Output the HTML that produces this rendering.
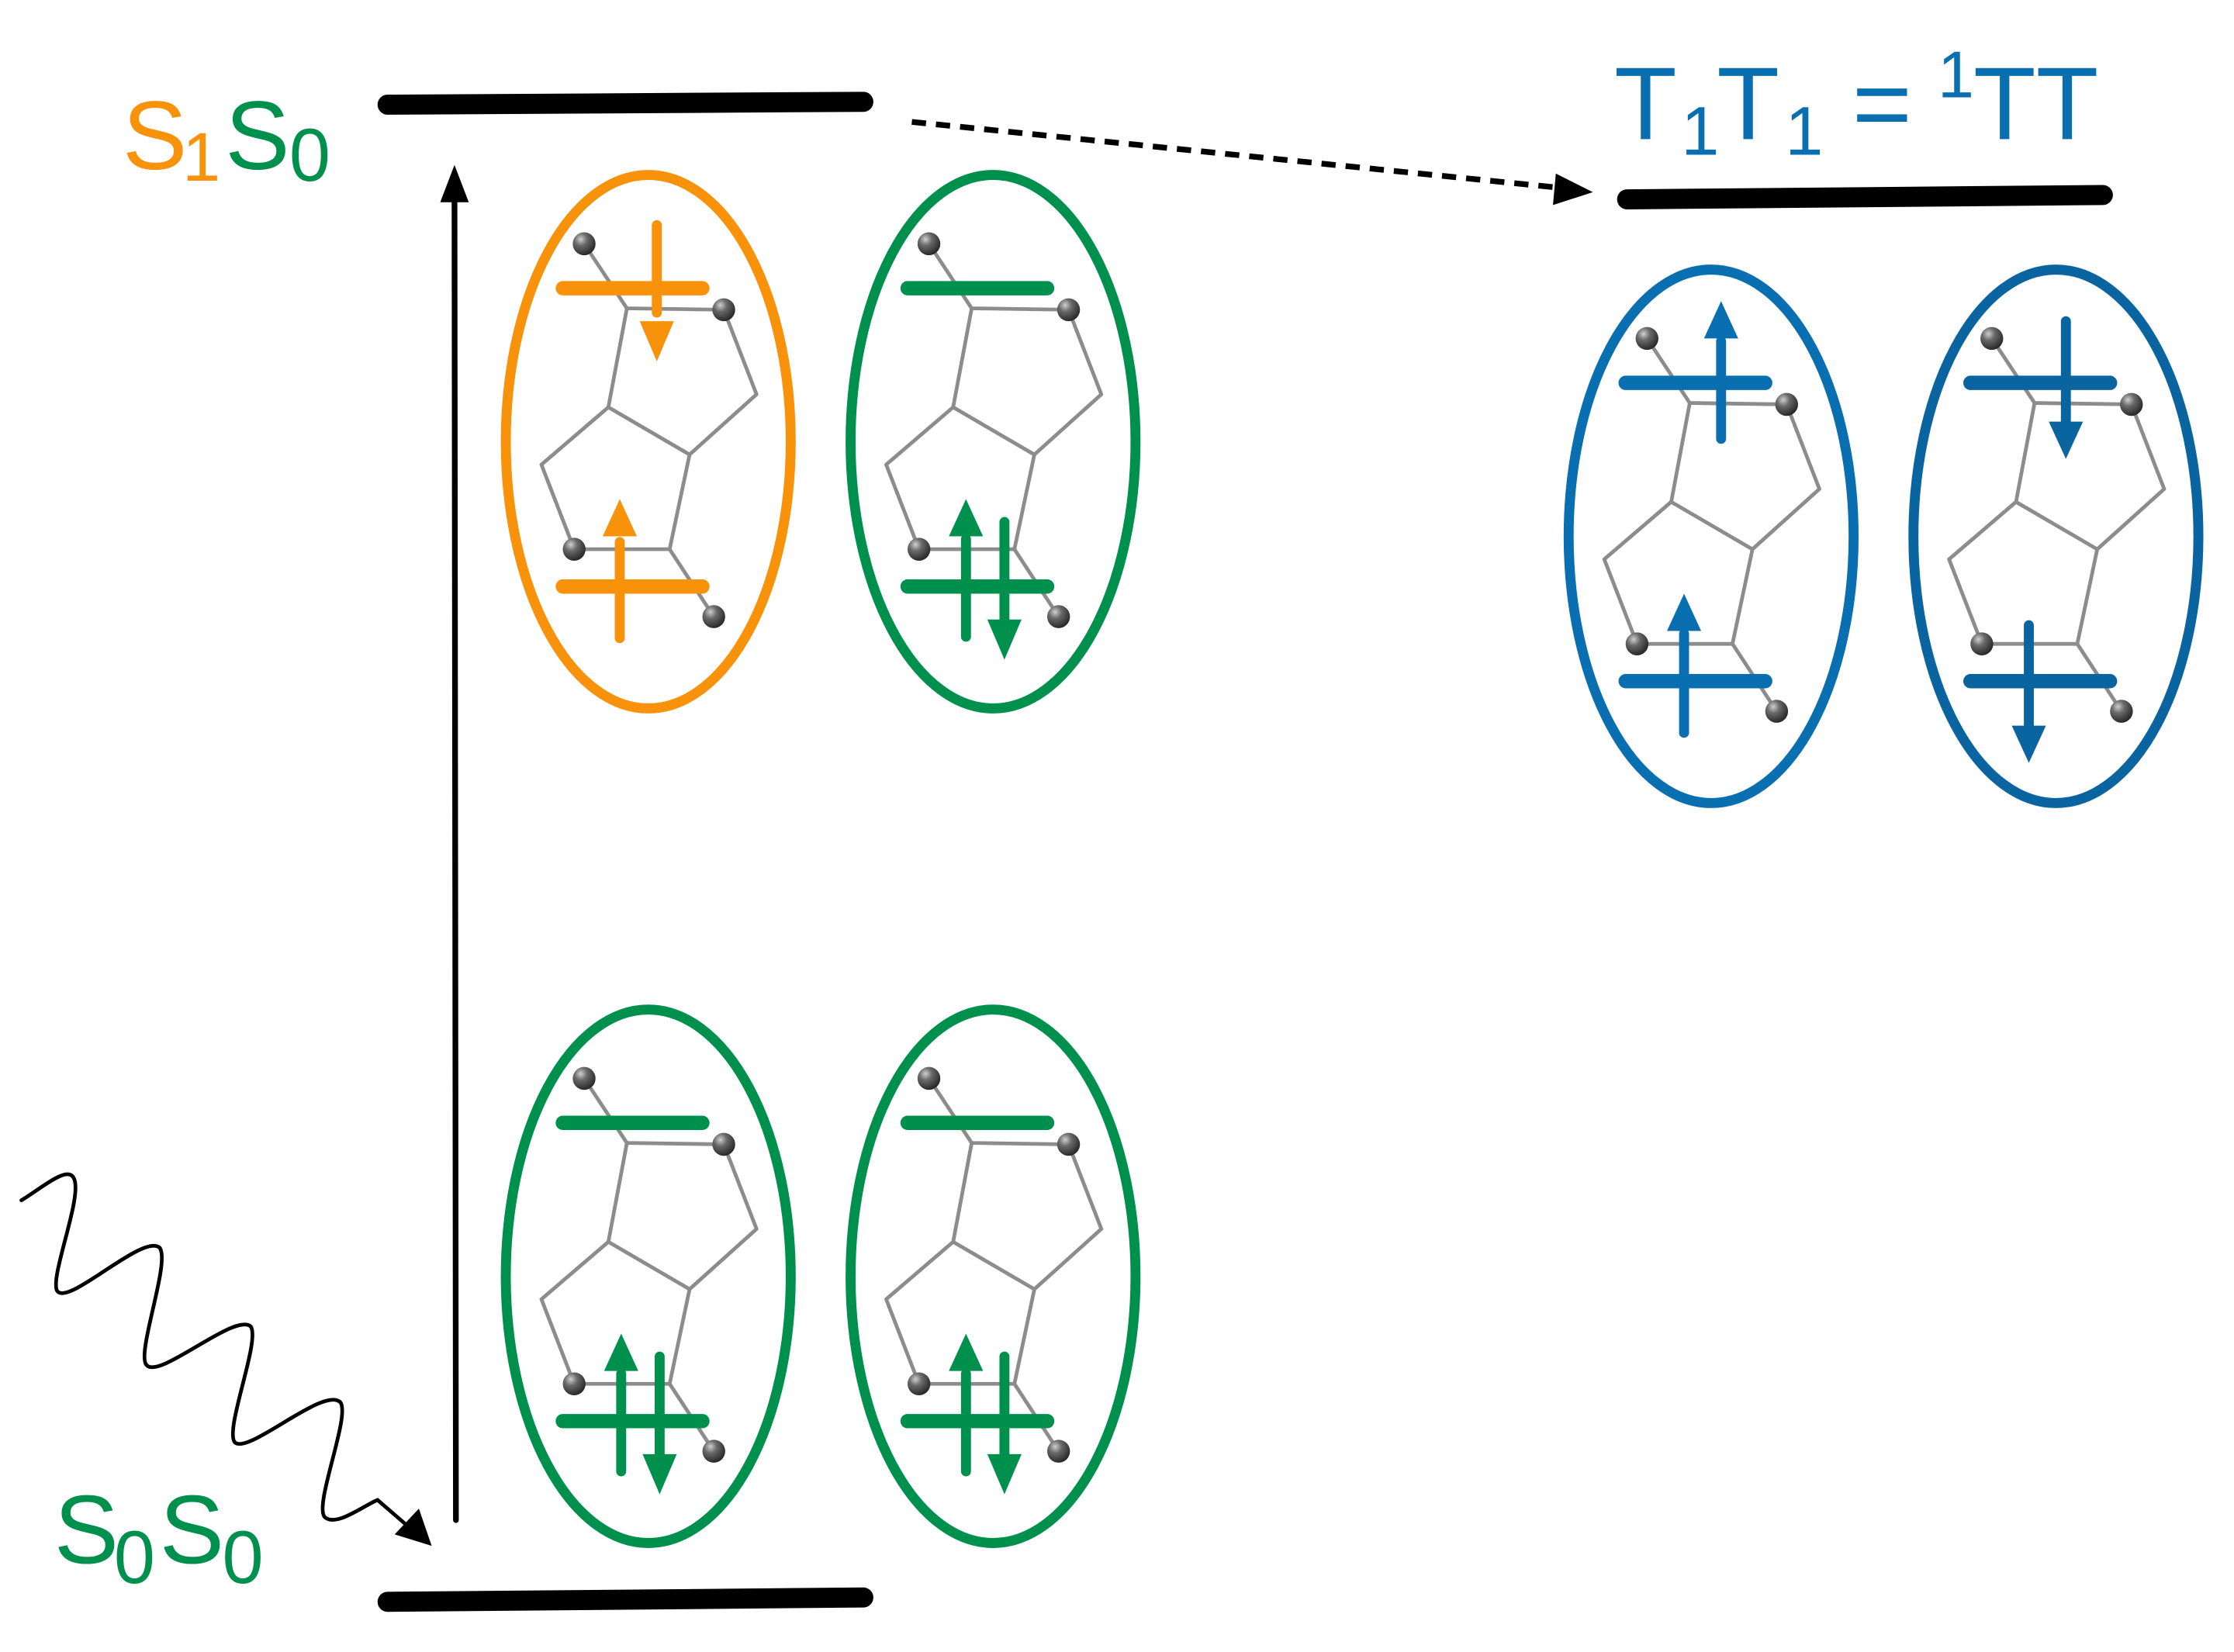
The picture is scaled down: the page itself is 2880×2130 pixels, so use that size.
<!DOCTYPE html>
<html><head><meta charset="utf-8"><style>
html,body{margin:0;padding:0;background:#fff;}
svg{display:block;}
text{font-family:"Liberation Sans","DejaVu Sans",sans-serif;}
</style></head><body>
<svg width="2880" height="2130" viewBox="0 0 1568 1152" preserveAspectRatio="none" xmlns="http://www.w3.org/2000/svg">
<defs>
<radialGradient id="ball" cx="35%" cy="30%" r="70%">
<stop offset="0" stop-color="#cfcfcf"/><stop offset="0.4" stop-color="#6a6a6a"/><stop offset="1" stop-color="#2a2a2a"/>
</radialGradient>
<g id="mol">
<g fill="none" stroke="#8c8c8c" stroke-width="2.6" stroke-linejoin="round">
<polyline points="-45,-138 -15,-93 53,-92"/>
<polyline points="53,-92 76,-33 29,9 -28,-24 -15,-93"/>
<polyline points="-28,-24 -75,16 -52,75 15,75 29,9"/>
<polyline points="15,75 46,122"/>
</g>
<circle cx="-45" cy="-138" r="8" fill="url(#ball)"/>
<circle cx="53" cy="-92" r="8" fill="url(#ball)"/>
<circle cx="-52" cy="75" r="8" fill="url(#ball)"/>
<circle cx="46" cy="122" r="8" fill="url(#ball)"/>
</g>
<g id="bars" stroke-width="10" stroke-linecap="round">
<line x1="-60" y1="-107" x2="38" y2="-107"/>
<line x1="-60" y1="101" x2="38" y2="101"/>
</g>
</defs>

<g stroke="#000" stroke-width="14" stroke-linecap="round">
<line x1="272" y1="73" x2="606" y2="71"/>
<line x1="272" y1="1117" x2="606" y2="1114"/>
<line x1="1142" y1="139" x2="1476" y2="136"/>
</g>
<line x1="320" y1="1060" x2="319" y2="135" stroke="#000" stroke-width="4" stroke-linecap="round"/>
<polygon points="319,115 309,141 329,141" fill="#000"/>
<line x1="640" y1="85" x2="1095" y2="131" stroke="#000" stroke-width="4" stroke-dasharray="10,7"/>
<polygon points="1118,134 1092,121 1090,143" fill="#000"/>
<path d="M15,837 C30,828 48,812 52,822 C58,835 35,890 40,900 C47,912 100,860 112,870 C120,880 95,945 103,952 C112,962 165,915 176,925 C183,935 157,998 165,1006 C175,1014 228,966 239,978 C246,988 220,1050 228,1058 C236,1065 255,1050 265,1046 L286,1064" fill="none" stroke="#000" stroke-width="2.6" stroke-linecap="round"/>
<polygon points="303,1078 277,1070 294,1052" fill="#000"/>

<text x="86" y="118" font-size="68" fill="#f7920a">S</text>
<text x="128" y="126" font-size="48" fill="#f7920a">1</text>
<text x="158" y="118" font-size="68" fill="#00904e">S</text>
<text x="203" y="126" font-size="52" fill="#00904e">0</text>
<text x="38" y="1090" font-size="68" fill="#00904e">S</text>
<text x="80" y="1104" font-size="52" fill="#00904e">0</text>
<text x="112" y="1090" font-size="68" fill="#00904e">S</text>
<text x="156" y="1104" font-size="52" fill="#00904e">0</text>
<g fill="#0a6fb0">
<text x="1133" y="97" font-size="72">T</text>
<text x="1180" y="108" font-size="48">1</text>
<text x="1205" y="97" font-size="72">T</text>
<text x="1253" y="108" font-size="48">1</text>
<text x="1300" y="97" font-size="72">=</text>
<text x="1360" y="68" font-size="46">1</text>
<text x="1385" y="97" font-size="72">TT</text>
</g>

<g transform="translate(455,308)">
<ellipse rx="100" ry="186" fill="none" stroke="#f7920a" stroke-width="7"/>
<use href="#mol"/>
<use href="#bars" stroke="#f7920a"/>
<g stroke="#f7920a" stroke-width="7" stroke-linecap="round" fill="#f7920a">
<line x1="6" y1="-151" x2="6" y2="-90"/><polygon points="-6,-84 18,-84 6,-56" stroke="none"/>
<line x1="-20" y1="137" x2="-20" y2="70"/><polygon points="-32,66 -8,66 -20,40" stroke="none"/>
</g>
</g>
<g transform="translate(697,308)">
<ellipse rx="100" ry="186" fill="none" stroke="#00904e" stroke-width="7"/>
<use href="#mol"/><use href="#bars" stroke="#00904e"/>
<g stroke="#00904e" stroke-width="7" stroke-linecap="round" fill="#00904e">
<line x1="-19" y1="136" x2="-19" y2="68"/><polygon points="-31,66 -7,66 -19,40" stroke="none"/>
<line x1="8" y1="56" x2="8" y2="124"/><polygon points="-4,124 20,124 8,152" stroke="none"/>
</g>
</g>
<g transform="translate(455,890)">
<ellipse rx="100" ry="186" fill="none" stroke="#00904e" stroke-width="7"/>
<use href="#mol"/><use href="#bars" stroke="#00904e"/>
<g stroke="#00904e" stroke-width="7" stroke-linecap="round" fill="#00904e">
<line x1="-19" y1="136" x2="-19" y2="68"/><polygon points="-31,66 -7,66 -19,40" stroke="none"/>
<line x1="8" y1="56" x2="8" y2="124"/><polygon points="-4,124 20,124 8,152" stroke="none"/>
</g>
</g>
<g transform="translate(697,890)">
<ellipse rx="100" ry="186" fill="none" stroke="#00904e" stroke-width="7"/>
<use href="#mol"/><use href="#bars" stroke="#00904e"/>
<g stroke="#00904e" stroke-width="7" stroke-linecap="round" fill="#00904e">
<line x1="-19" y1="136" x2="-19" y2="68"/><polygon points="-31,66 -7,66 -19,40" stroke="none"/>
<line x1="8" y1="56" x2="8" y2="124"/><polygon points="-4,124 20,124 8,152" stroke="none"/>
</g>
</g>
<g transform="translate(1201,374)">
<ellipse rx="100" ry="186" fill="none" stroke="#0a6fb0" stroke-width="7"/>
<use href="#mol"/><use href="#bars" stroke="#0a6fb0"/>
<g stroke="#0a6fb0" stroke-width="7" stroke-linecap="round" fill="#0a6fb0">
<line x1="7" y1="-68" x2="7" y2="-136"/><polygon points="-5,-138 19,-138 7,-164" stroke="none"/>
<line x1="-19" y1="137" x2="-19" y2="68"/><polygon points="-31,66 -7,66 -19,40" stroke="none"/>
</g>
</g>
<g transform="translate(1443,374)">
<ellipse rx="100" ry="186" fill="none" stroke="#0a64a0" stroke-width="7"/>
<use href="#mol"/><use href="#bars" stroke="#0a64a0"/>
<g stroke="#0a64a0" stroke-width="7" stroke-linecap="round" fill="#0a64a0">
<line x1="7" y1="-150" x2="7" y2="-80"/><polygon points="-5,-80 19,-80 7,-54" stroke="none"/>
<line x1="-19" y1="62" x2="-19" y2="132"/><polygon points="-31,132 -7,132 -19,158" stroke="none"/>
</g>
</g>
</svg>
</body></html>
